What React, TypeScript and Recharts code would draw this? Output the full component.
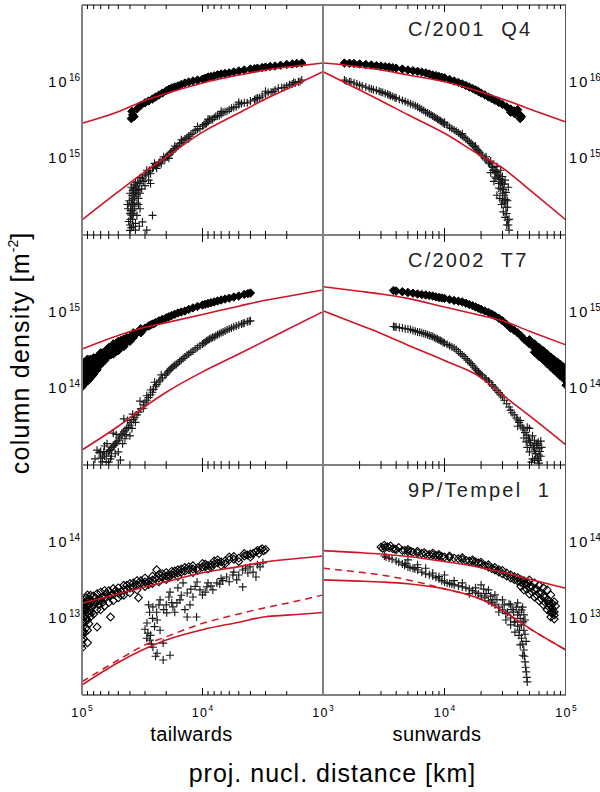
import React from 'react';
import { ScatterChart, Scatter, XAxis, YAxis } from 'recharts';

type P = [number, number];

// ---------- tick values ----------
const X_TICKS = [1000, 2000, 3000, 4000, 5000, 6000, 7000, 8000, 9000, 10000, 20000, 30000, 40000, 50000, 60000, 70000, 80000, 90000, 100000];
const Q4_Y_DOMAIN = [1e14, 1e17];
const Q4_Y_TICKS = [1e15, 1e16];
const T7_Y_DOMAIN = [1e13, 1e16];
const T7_Y_TICKS = [1e14, 1e15];
const TP_Y_DOMAIN = [1e12, 1e15];
const TP_Y_TICKS = [1e13, 1e14];
const TITLES = ['C/2001  Q4', 'C/2002  T7', '9P/Tempel  1'];

// ---------- C/2001 Q4 ----------
const Q4_TAIL_DIA: P[] = [[39000,3.3e15],[38500,4.1e15],[38000,3.7e15],[37000,3.5e15],[35000,4.4e15],[32500,4.9e15],[30000,5.3e15],[28000,5.6e15],[26000,5.95e15],[24500,6.3e15],[23000,6.7e15],[21500,7.1e15],[20000,7.6e15],[19000,7.95e15],[18000,8.3e15],[17000,8.55e15],[16000,8.8e15],[15000,9.2e15],[14000,9.6e15],[13000,9.9e15],[12000,1.02e16],[11000,1.05e16],[10000,1.08e16],[9500,1.11e16],[9000,1.15e16],[8500,1.17e16],[8000,1.19e16],[7500,1.23e16],[7000,1.26e16],[6500,1.28e16],[6000,1.3e16],[5500,1.34e16],[5000,1.38e16],[4500,1.42e16],[4000,1.46e16],[3700,1.48e16],[3500,1.5e16],[3200,1.53e16],[3000,1.55e16],[2750,1.58e16],[2500,1.6e16],[2250,1.64e16],[2000,1.68e16],[1800,1.7e16],[1650,1.73e16],[1500,1.75e16]];
const Q4_TAIL_CROSS: P[] = [[1500,1.05e16],[1600,1.0e16],[1700,9.6e15],[1800,9.3e15],[1900,9.1e15],[2000,8.8e15],[2200,8.3e15],[2500,7.8e15],[2700,7.3e15],[3000,6.9e15],[3200,6.5e15],[3500,6.1e15],[3700,5.8e15],[4000,5.6e15],[4500,5.3e15],[5000,5.0e15],[5500,4.6e15],[6000,4.3e15],[6500,4.05e15],[7000,3.8e15],[7500,3.6e15],[8000,3.4e15],[8500,3.2e15],[9000,3.0e15],[9500,2.8e15],[10000,2.64e15],[11000,2.4e15],[12000,2.14e15],[13000,1.95e15],[14000,1.79e15],[15000,1.6e15],[16000,1.45e15],[17000,1.33e15],[18000,1.21e15],[19000,1.12e15],[20000,1.04e15],[21500,9.5e14],[23000,8.7e14],[24500,8.0e14],[26000,7.5e14],[28000,6.6e14],[30000,5.9e14],[32500,5.1e14],[35000,4.35e14],[37000,3.5e14],[38000,2.86e14],[39000,1.82e14],[40000,1.35e14],
[3000,7.5e15],[5000,5.4e15],[7000,4.1e15],[9000,3.25e15],[11000,2.6e15],[13000,1.8e15],[15000,1.75e15],[17000,1.45e15],[19000,1.0e15],[21000,1.05e15],[22000,8.5e14],[24000,7.4e14],[25000,8.6e14],[27000,6.3e14],[29000,7.0e14],[31000,5.0e14],[33000,5.6e14],[34000,3.9e14],[36000,4.8e14],[36500,3.2e14],[37500,4.0e14],[38500,2.4e14],[39500,2.1e14],[39500,1.6e14],[38000,2.1e14],[31500,1.48e14],[26000,1.8e14],[29000,1.16e14],[36000,1.16e14],[36000,1.42e14],[35000,2.6e14],[34000,3.0e14],[33000,2.2e14],[40000,1.9e14],[37000,2.5e14],
[1550,1.0e16],[1750,9.8e15],[2100,8.4e15],[2350,8.2e15],[2600,7.4e15],[2850,7.2e15],[3350,6.2e15],[3600,6.0e15],[4250,5.3e15],[4750,5.2e15],[5250,4.7e15],[5750,4.5e15],[6250,4.1e15],[6750,4.0e15],[7250,3.6e15],[7750,3.55e15],[8250,3.2e15],[8750,3.2e15],[9250,2.85e15],[9750,2.75e15],[10500,2.45e15],[11500,2.3e15],[12500,2.05e15],[13500,1.85e15],[14500,1.7e15],[15500,1.55e15],[16500,1.4e15],[17500,1.26e15],[18500,1.2e15],[19500,1.05e15],[20500,9.8e14],[22500,9.0e14],[23500,8.2e14],[25500,7.6e14],[27500,7.0e14],[29500,6.2e14],[31500,5.5e14],[33500,4.7e14],[34500,4.9e14],[35500,3.8e14],[36000,4.1e14],[37000,3.0e14],[38500,3.3e14],[39000,2.6e14],[38000,1.6e14],[37500,1.9e14],[39000,1.25e14],[36500,2.2e14],[35000,3.4e14],
[41000,1.5e14],[41500,2.2e14],[40500,2.8e14],[40000,3.5e14],[39000,4.2e14],[38000,3.8e14],[37000,4.5e14],[36000,3.6e14],[34000,2.5e14],[33000,3.5e14],[32000,4.0e14],[30000,4.4e14],[28000,5.2e14],[27000,4.7e14],[35000,1.8e14],[33500,1.3e14],[40000,1.15e14],[37500,1.3e14],[42000,2.5e14]];
const Q4_TAIL_MODEL: P[] = [[1000,1.75e16],[1500,1.63e16],[2000,1.55e16],[3000,1.42e16],[5000,1.22e16],[10000,9.6e15],[20000,7.0e15],[30000,5.7e15],[50000,4.05e15],[100000,2.87e15]];
const Q4_TAIL_MODEL2: P[] = [[1000,1.35e16],[2000,8.0e15],[3000,5.95e15],[5000,3.9e15],[10000,2.2e15],[20000,1.04e15],[30000,6.7e14],[50000,3.67e14],[100000,1.57e14]];
const Q4_SUN_DIA: P[] = [[1500,1.75e16],[1650,1.74e16],[1800,1.73e16],[2000,1.7e16],[2250,1.68e16],[2500,1.65e16],[2750,1.62e16],[3000,1.6e16],[3250,1.57e16],[3500,1.55e16],[3750,1.52e16],[4000,1.5e16],[4500,1.46e16],[5000,1.42e16],[5500,1.39e16],[6000,1.36e16],[6500,1.33e16],[7000,1.3e16],[7500,1.26e16],[8000,1.22e16],[8500,1.2e16],[9000,1.17e16],[9500,1.14e16],[10000,1.12e16],[11000,1.07e16],[12000,1.02e16],[13000,9.8e15],[14000,9.35e15],[15000,8.9e15],[16000,8.5e15],[17000,8.15e15],[18000,7.8e15],[19000,7.45e15],[20000,7.1e15],[21500,6.7e15],[23000,6.3e15],[24500,6.0e15],[26000,5.7e15],[28000,5.35e15],[30000,5.05e15],[32500,4.7e15],[35000,4.4e15],[37500,4.15e15],[40000,3.9e15],[42000,3.65e15],[43000,3.5e15],[40000,4.3e15],[42000,3.3e15],[38000,3.8e15],[35000,4.0e15]];
const Q4_SUN_CROSS: P[] = [[1500,1.05e16],[1650,1.0e16],[1800,9.6e15],[2000,9.0e15],[2250,8.5e15],[2500,8.0e15],[2750,7.7e15],[3000,7.35e15],[3250,7.0e15],[3500,6.7e15],[3750,6.4e15],[4000,6.1e15],[4500,5.7e15],[5000,5.3e15],[5500,5.0e15],[6000,4.68e15],[6500,4.35e15],[7000,4.0e15],[7500,3.8e15],[8000,3.57e15],[8500,3.35e15],[9000,3.17e15],[9500,3.0e15],[10000,2.8e15],[11000,2.55e15],[12000,2.35e15],[13000,2.15e15],[14000,1.96e15],[15000,1.8e15],[16000,1.64e15],[17000,1.5e15],[18000,1.37e15],[19000,1.25e15],[20000,1.14e15],[21500,1.0e15],[23000,8.9e14],[24500,7.9e14],[26000,7.05e14],[27000,6.5e14],[28000,5.9e14],[29000,5.3e14],[30000,4.6e14],[31000,3.3e14],[32000,2.3e14],[33000,1.57e14],[34000,1.16e14],
[22000,1.05e15],[24000,9.2e14],[25000,7.0e14],[26000,5.7e14],[27000,7.8e14],[27000,3.3e14],[28000,4.1e14],[29000,7.0e14],[29000,4.0e14],[30000,2.86e14],[30000,5.8e14],[30500,2.0e14],[31000,4.6e14],[31500,5.2e14],[32000,3.6e14],[32500,1.35e14],[31000,2.6e14],[33000,2.8e14],[33500,4.2e14],[29500,2.5e14],[31500,1.7e14],[28500,3.0e14],[25500,5.0e14],[18000,1.45e15],[14000,2.1e15],[10000,2.95e15],
[1550,1.02e16],[1700,9.9e15],[1900,9.3e15],[2100,8.8e15],[2400,8.2e15],[2600,7.85e15],[2900,7.5e15],[3100,7.2e15],[3400,6.85e15],[3600,6.55e15],[3900,6.2e15],[4250,5.9e15],[4750,5.5e15],[5250,5.15e15],[5750,4.85e15],[6250,4.5e15],[6750,4.2e15],[7250,3.9e15],[7750,3.7e15],[8250,3.45e15],[8750,3.25e15],[9250,3.1e15],[9750,2.9e15],[10500,2.7e15],[11500,2.45e15],[12500,2.25e15],[13500,2.05e15],[14500,1.88e15],[15500,1.72e15],[16500,1.57e15],[17500,1.43e15],[18500,1.3e15],[19500,1.2e15],[20500,1.08e15],[22000,9.5e14],[23500,8.5e14],[25000,7.6e14],[26500,6.7e14],[27500,6.1e14],[28500,5.5e14],[29500,4.9e14],[30500,3.9e14],[31500,2.8e14],[32500,1.9e14],[33500,1.35e14],[28000,4.7e14],[30000,3.5e14],[32000,2.9e14],[33000,2.3e14],[34000,1.6e14],[26500,5.5e14],[24000,6.5e14]];
const Q4_SUN_MODEL: P[] = [[1000,1.75e16],[1500,1.65e16],[2000,1.55e16],[3000,1.42e16],[5000,1.22e16],[10000,1.0e16],[20000,7.35e15],[30000,5.95e15],[50000,4.4e15],[100000,2.98e15]];
const Q4_SUN_MODEL2: P[] = [[1000,1.35e16],[2000,7.8e15],[3000,5.65e15],[5000,3.7e15],[10000,2.12e15],[20000,1.08e15],[30000,7.5e14],[50000,3.9e14],[100000,1.57e14]];

// ---------- C/2002 T7 ----------
const T7_TAIL_DIA: P[] = [[100000,1.5e14],[100000,2.14e14],[100000,1.04e14],[100000,1.25e14],[100000,1.8e14],[97500,1.4e14],[97500,1.95e14],[95000,1.62e14],[95000,1.15e14],[95000,2.2e14],[92500,1.55e14],[92500,2.1e14],[92500,1.3e14],[90000,1.74e14],[90000,2.4e14],[90000,1.25e14],[87500,1.65e14],[87500,2.25e14],[87500,1.3e14],[85000,1.88e14],[85000,1.4e14],[85000,2.4e14],[82500,1.75e14],[82500,2.2e14],[82500,1.45e14],[80000,2.02e14],[80000,2.5e14],[80000,1.54e14],[77500,2.1e14],[77500,2.45e14],[77500,1.65e14],[75000,2.25e14],[75000,1.75e14],[72500,2.35e14],[72500,2.7e14],[72500,1.95e14],[70000,2.49e14],[70000,2.9e14],[70000,2.05e14],[67500,2.55e14],[67500,2.9e14],[67500,2.2e14],[65000,2.7e14],[65000,2.3e14],[62500,2.8e14],[62500,3.2e14],[62500,2.5e14],[60000,2.98e14],[60000,3.4e14],[57500,3.1e14],[57500,3.5e14],[57500,2.75e14],[55000,3.25e14],[55000,3.8e14],[55000,2.8e14],[52500,3.4e14],[52500,3.85e14],[52500,3.0e14],[50000,3.57e14],[50000,3.1e14],[50000,4.1e14],[47500,3.7e14],[47500,4.2e14],[47000,3.8e14],[45000,4.0e14],[45000,3.5e14],[45000,4.4e14],[42500,4.3e14],[42500,4.6e14],[42500,4.0e14],[40000,4.68e14],[40000,4.1e14],[37500,4.95e14],[37500,4.6e14],[37500,5.3e14],[35000,5.3e14],[32500,5.7e14],[32500,5.3e14],[32500,6.0e14],[30000,6.1e14],[28000,6.5e14],[27000,6.7e14],[26000,6.9e14],[25000,7.05e14],[24500,7.2e14],[23000,7.6e14],[21500,7.95e14],[20000,8.3e14],[19000,8.6e14],[18000,8.9e14],[17000,9.25e14],[16000,9.6e14],[15000,9.9e14],[14000,1.02e15],[13000,1.07e15],[12000,1.12e15],[11000,1.17e15],[10000,1.22e15],[9500,1.25e15],[9000,1.28e15],[8500,1.31e15],[8000,1.34e15],[7500,1.38e15],[7000,1.42e15],[6500,1.46e15],[6000,1.5e15],[5500,1.55e15],[5000,1.6e15],[4500,1.68e15],[4200,1.72e15],[4000,1.75e15]];
const T7_TAIL_CROSS: P[] = [[4000,7.6e14],[4250,7.4e14],[4500,7.1e14],[4750,6.9e14],[5000,6.7e14],[5500,6.3e14],[6000,5.95e14],[6500,5.6e14],[7000,5.3e14],[7500,5.0e14],[8000,4.68e14],[8500,4.5e14],[9000,4.27e14],[9500,4.0e14],[10000,3.8e14],[11000,3.4e14],[12000,3.07e14],[13000,2.8e14],[14000,2.57e14],[15000,2.35e14],[16000,2.14e14],[17000,2.0e14],[18000,1.85e14],[19000,1.7e14],[20000,1.54e14],[21500,1.37e14],[23000,1.21e14],[24500,1.05e14],[26000,8.9e13],[28000,7.6e13],[30000,6.6e13],[32500,5.4e13],[35000,4.5e13],[37500,3.9e13],[40000,3.3e13],[42500,3.0e13],[45000,2.7e13],[47500,2.4e13],[50000,2.1e13],[52500,1.9e13],[55000,1.77e13],[57500,1.6e13],[60000,1.48e13],[65000,1.31e13],[70000,1.23e13],
[22000,1.5e14],[25000,1.2e14],[27000,9.5e13],[29000,8.0e13],[31000,5.5e13],[33000,6.8e13],[36000,3.6e13],[38000,4.6e13],[40000,2.4e13],[42000,3.8e13],[44000,2.2e13],[45000,4.0e13],[48000,1.16e13],[50000,1.48e13],[52000,2.5e13],[55000,2.6e13],[58000,1.2e13],[60000,1.09e13],[62000,1.9e13],[65000,1.77e13],[68000,1.1e13],[72000,1.45e13],[75000,1.56e13],[78000,1.2e13],[66000,1.5e13],
[4100,7.5e14],[4600,7.0e14],[5250,6.5e14],[5750,6.1e14],[6250,5.8e14],[6750,5.45e14],[7250,5.15e14],[7750,4.85e14],[8250,4.6e14],[8750,4.4e14],[9250,4.15e14],[9750,3.9e14],[10500,3.6e14],[11500,3.25e14],[12500,2.95e14],[13500,2.7e14],[14500,2.45e14],[15500,2.25e14],[16500,2.05e14],[17500,1.92e14],[18500,1.78e14],[19500,1.62e14],[20500,1.48e14],[22500,1.28e14],[24000,1.12e14],[25500,9.7e13],[27000,8.2e13],[29000,7.0e13],[31000,6.1e13],[34000,4.9e13],[36500,4.2e13],[39000,3.6e13],[41000,3.1e13],[44000,2.85e13],[46500,2.55e13],[49000,2.25e13],[51500,2.0e13],[54000,1.82e13],[56500,1.7e13],[59000,1.55e13],[62500,1.4e13],[67500,1.27e13],[53000,1.4e13],[57000,1.3e13],[63000,1.1e13],[70000,1.5e13],[46000,1.9e13],[43000,2.5e13],[38500,3.0e13]];
const T7_TAIL_MODEL: P[] = [[1000,1.92e15],[2000,1.58e15],[3000,1.41e15],[5000,1.18e15],[10000,9.2e14],[20000,7.2e14],[30000,6.25e14],[50000,4.9e14],[100000,3.26e14]];
const T7_TAIL_MODEL2: P[] = [[1000,1.0e15],[2000,5.8e14],[3000,4.2e14],[5000,2.8e14],[10000,1.64e14],[20000,8.9e13],[30000,5.8e13],[50000,3.2e13],[100000,1.57e13]];
const T7_SUN_DIA: P[] = [[3800,1.89e15],[4000,1.86e15],[4500,1.82e15],[5000,1.78e15],[5500,1.74e15],[6000,1.7e15],[6500,1.67e15],[7000,1.65e15],[7500,1.62e15],[8000,1.6e15],[8500,1.56e15],[9000,1.53e15],[9500,1.51e15],[10000,1.49e15],[11000,1.44e15],[12000,1.4e15],[13000,1.37e15],[14000,1.34e15],[15000,1.29e15],[16000,1.24e15],[17000,1.2e15],[18000,1.15e15],[19000,1.11e15],[20000,1.07e15],[21500,1.02e15],[23000,9.8e14],[24500,9.3e14],[26000,8.8e14],[28000,8.2e14],[30000,7.6e14],[32500,6.8e14],[35000,6.1e14],[37500,5.7e14],[40000,5.3e14],[42500,4.85e14],[45000,4.4e14],[47500,4.1e14],[50000,3.8e14],[55000,3.35e14],[60000,2.98e14],[65000,2.7e14],[70000,2.42e14],[75000,2.2e14],[80000,2.02e14],[85000,1.88e14],[90000,1.74e14],[95000,1.62e14],[100000,1.54e14],
[50000,4.3e14],[55000,3.8e14],[60000,3.4e14],[65000,3.1e14],[70000,2.8e14],[75000,2.55e14],[80000,2.35e14],[85000,2.2e14],[90000,2.05e14],[95000,1.9e14],[100000,1.85e14],[55000,2.95e14],[60000,2.6e14],[65000,2.35e14],[70000,2.1e14],[75000,1.9e14],[80000,1.72e14],[85000,1.58e14],[90000,1.45e14],[95000,1.35e14],[100000,1.25e14],[100000,1.1e14]];
const T7_SUN_CROSS: P[] = [[3800,6.4e14],[4000,6.3e14],[4500,6.1e14],[5000,5.95e14],[5500,5.7e14],[6000,5.45e14],[6500,5.3e14],[7000,5.1e14],[7500,4.9e14],[8000,4.75e14],[8500,4.5e14],[9000,4.27e14],[9500,4.1e14],[10000,3.9e14],[11000,3.6e14],[12000,3.36e14],[13000,3.0e14],[14000,2.73e14],[15000,2.45e14],[16000,2.2e14],[17000,2.0e14],[18000,1.79e14],[19000,1.63e14],[20000,1.5e14],[21500,1.37e14],[23000,1.25e14],[24500,1.12e14],[26000,1.01e14],[28000,8.8e13],[30000,7.7e13],[32500,6.3e13],[35000,5.2e13],[37500,4.5e13],[40000,3.86e13],[42500,3.3e13],[45000,2.86e13],[47500,2.45e13],[50000,2.1e13],[52500,1.8e13],[55000,1.57e13],[58000,1.23e13],[60000,1.06e13],
[45000,2.25e13],[48000,3.1e13],[50000,1.48e13],[50000,3.0e13],[52000,1.09e13],[53000,2.4e13],[55000,2.1e13],[55000,1.16e13],[57000,1.9e13],[58000,1.8e13],[60000,1.66e13],[60000,1.35e13],[62000,2.05e13],[62000,1.3e13],[56000,1.4e13],[42000,3.8e13],[40000,3.2e13],[47000,2.0e13],
[3900,6.35e14],[4250,6.2e14],[4750,6.0e14],[5250,5.85e14],[5750,5.55e14],[6250,5.4e14],[6750,5.2e14],[7250,5.0e14],[7750,4.8e14],[8250,4.6e14],[8750,4.4e14],[9250,4.2e14],[9750,4.0e14],[10500,3.75e14],[11500,3.45e14],[12500,3.2e14],[13500,2.85e14],[14500,2.6e14],[15500,2.33e14],[16500,2.1e14],[17500,1.9e14],[18500,1.7e14],[19500,1.56e14],[20500,1.45e14],[22000,1.32e14],[23500,1.2e14],[25000,1.07e14],[27000,9.4e13],[29000,8.2e13],[31000,7.0e13],[34000,5.7e13],[36000,4.8e13],[39000,4.1e13],[41000,3.6e13],[44000,3.05e13],[46000,2.65e13],[49000,2.25e13],[51000,1.95e13],[54000,1.68e13],[56500,1.4e13],[59000,1.15e13],[61000,1.5e13],[63000,1.7e13],[59000,2.0e13],[53000,1.2e13],[48000,1.7e13]];
const T7_SUN_MODEL: P[] = [[1000,2.12e15],[2000,1.85e15],[3000,1.7e15],[5000,1.49e15],[10000,1.15e15],[20000,8.9e14],[30000,7.6e14],[50000,5.55e14],[100000,3.68e14]];
const T7_SUN_MODEL2: P[] = [[1000,1.03e15],[2000,6.7e14],[3000,5.2e14],[5000,3.65e14],[10000,2.3e14],[20000,1.38e14],[30000,8.2e13],[50000,4.4e13],[100000,1.82e13]];

// ---------- 9P/Tempel 1 ----------
const TP_TAIL_DIA: P[] = [[100000,9.5e12],[100000,1.74e13],[100000,1.29e13],[100000,7.0e12],[100000,5.2e12],[100000,4.1e12],[100000,1.5e13],[100000,1.1e13],[100000,8.2e12],[100000,6.0e12],[100000,1.6e13],[100000,1.2e13],[100000,8.8e12],[100000,6.5e12],[100000,4.6e12],[97500,1.55e13],[97500,1.15e13],[97500,8.5e12],[97500,1.35e13],[97500,5.5e12],[95000,1.21e13],[95000,1.6e13],[95000,9.0e12],[95000,6.5e12],[95000,1.42e13],[95000,1.05e13],[92500,1.3e13],[92500,1.85e13],[92500,1.0e13],[92500,7.5e12],[92500,1.6e13],[90000,1.45e13],[90000,2.02e13],[90000,9.5e12],[90000,7.0e12],[90000,1.2e13],[90000,1.7e13],[90000,4.8e12],[87500,1.5e13],[87500,1.8e13],[87500,1.15e13],[87500,8.5e12],[85000,1.59e13],[85000,2.0e13],[85000,1.25e13],[85000,1.05e13],[82500,1.7e13],[82500,1.4e13],[82500,1.2e13],[80000,1.55e13],[80000,1.96e13],[80000,1.14e13],[77500,1.6e13],[77500,1.85e13],[75000,1.65e13],[75000,2.1e13],[75000,1.3e13],[75000,7.7e12],[72500,1.7e13],[72500,1.5e13],[70000,1.74e13],[70000,2.2e13],[70000,1.29e13],[67500,1.9e13],[67500,1.6e13],[65000,1.85e13],[65000,2.3e13],[65000,1.45e13],[62500,2.1e13],[60000,1.96e13],[60000,2.3e13],[60000,1.6e13],[58000,1.04e13],[57500,2.0e13],[55000,2.05e13],[55000,2.45e13],[55000,1.7e13],[52500,2.3e13],[50000,2.14e13],[50000,2.5e13],[50000,1.85e13],[47500,2.25e13],[47500,2.0e13],[45000,2.35e13],[45000,2.7e13],[45000,2.0e13],[42500,2.4e13],[42500,2.7e13],[40000,2.49e13],[40000,2.85e13],[40000,2.15e13],[37500,2.6e13],[37500,2.9e13],[35000,2.73e13],[35000,3.1e13],[35000,2.35e13],[34000,1.85e13],[32500,2.85e13],[32500,3.1e13],[30000,2.98e13],[30000,3.35e13],[30000,2.6e13],[28000,3.05e13],[28000,2.75e13],[26000,3.17e13],[26000,3.55e13],[26000,2.85e13],[24500,3.3e13],[24000,4.3e13],[23000,3.36e13],[23000,3.75e13],[23000,3.0e13],[21500,3.45e13],[21500,3.8e13],[20000,3.57e13],[20000,3.95e13],[20000,3.2e13],[19000,3.65e13],[19000,3.4e13],[18000,3.73e13],[18000,4.1e13],[17000,3.8e13],[17000,4.15e13],[16000,3.9e13],[16000,4.3e13],[16000,3.5e13],[15000,4.0e13],[15000,4.4e13],[14000,4.15e13],[14000,4.6e13],[13000,4.3e13],[13000,4.7e13],[12000,4.4e13],[12000,4.85e13],[12000,3.95e13],[11000,4.55e13],[11000,4.2e13],[10000,4.68e13],[10000,5.2e13],[9500,4.75e13],[9500,5.1e13],[9000,4.9e13],[9000,4.4e13],[8500,5.0e13],[8500,4.6e13],[8000,5.1e13],[8000,5.6e13],[7500,5.3e13],[7500,5.8e13],[7000,5.45e13],[7000,4.9e13],[6500,5.6e13],[6500,5.1e13],[6000,5.8e13],[6000,6.3e13],[5500,5.9e13],[5500,6.4e13],[5000,6.1e13],[5000,5.5e13],[4500,6.5e13],[4500,7.0e13],[4250,6.7e13],[4000,6.9e13],[4000,6.3e13],[3800,7.0e13],[3600,7.35e13],[3500,7.7e13],[3400,7.0e13],[3300,7.8e13],[3200,8.1e13],[3100,7.6e13],[3000,7.9e13]];
const TP_TAIL_CROSS: P[] = [[28900,8.7e12],[28400,6.4e12],[27300,5.2e12],[25800,4.2e12],[23800,3.5e12],[21200,2.86e12],[18600,3.3e12],[21200,4.76e12],[25800,1.41e13],[22500,1.74e13],[19800,1.18e13],[17600,1.41e13],[15400,1.74e13],[13400,2.14e13],[13400,1.04e13],[12000,1.9e13],[11200,1.04e13],[10500,2.35e13],[9200,2.57e13],[7600,2.9e13],[6300,3.46e13],[5600,3.68e13],[4640,4.27e13],[4030,4.68e13],[3330,4.68e13],[3150,5.3e13],[4640,2.57e13],[14500,2.9e13],[18600,2.2e13],[16300,1.59e13],[12700,1.5e13],[23800,9.5e12],[22500,7.0e12],[10000,2.02e13],[8200,2.35e13],[7200,2.8e13],[5200,3.17e13],[3800,4.0e13],[3600,3.46e13],[5000,3.68e13],[11100,2.98e13],[20000,1.5e13],[24000,1.2e13],[26000,1.0e13],[17000,1.2e13],[14000,1.3e13],[9500,2.2e13],[8500,2.65e13],[6800,3.1e13],[6000,3.0e13],[4200,3.9e13],[3500,5.0e13],[12500,2.4e13],[16000,2.5e13],[19000,1.9e13],[27000,6.0e12],[25000,7.8e12],[30000,7.2e12],[26500,4.6e12],[29000,5.5e12],[24500,3.2e12],[21000,1.3e13],[18000,1.6e13],[15000,2.0e13],[11500,2.6e13],[9000,2.9e13],[7000,3.3e13],[5500,4.0e13],[4400,4.5e13],[23000,1.5e13],[27500,1.2e13],[28000,1.5e13]];
const TP_TAIL_MODEL: P[] = [[1000,6.5e13],[2000,5.85e13],[3000,5.45e13],[5000,4.73e13],[10000,3.93e13],[20000,3.0e13],[30000,2.57e13],[50000,2.09e13],[100000,1.57e13]];
const TP_TAIL_MODEL2: P[] = [[1000,1.19e13],[2000,1.1e13],[3000,1.05e13],[5000,8.9e12],[10000,7.1e12],[20000,5.2e12],[30000,4.0e12],[50000,2.65e12],[100000,1.35e12]];
const TP_TAIL_DASH: P[] = [[1000,2.02e13],[2000,1.57e13],[3000,1.38e13],[5000,1.14e13],[10000,8.6e12],[20000,5.75e12],[30000,4.5e12],[50000,2.86e12],[100000,1.49e12]];
const TP_SUN_DIA: P[] = [[3000,8.5e13],[3250,8.4e13],[3500,8.3e13],[3750,8.1e13],[4000,7.9e13],[4500,7.65e13],[5000,7.45e13],[5500,7.25e13],[6000,7.1e13],[6500,7.0e13],[7000,6.9e13],[7500,6.8e13],[8000,6.7e13],[8500,6.6e13],[9000,6.5e13],[9500,6.4e13],[10000,6.3e13],[11000,6.2e13],[12000,6.1e13],[13000,6.0e13],[14000,5.85e13],[15000,5.7e13],[16000,5.6e13],[17000,5.5e13],[18000,5.45e13],[19000,5.3e13],[20000,5.1e13],[21500,4.9e13],[23000,4.68e13],[24500,4.45e13],[26000,4.27e13],[28000,4.0e13],[30000,3.8e13],[32500,3.55e13],[35000,3.36e13],[37500,3.2e13],[40000,3.07e13],[42500,2.95e13],[45000,2.8e13],[47500,2.7e13],[50000,2.57e13],[55000,2.35e13],[60000,2.14e13],[65000,1.95e13],[70000,1.74e13],[75000,1.5e13],[80000,1.21e13],
[3200,9.0e13],[3600,8.8e13],[4200,8.4e13],[5000,7.9e13],[6000,7.5e13],[8000,7.1e13],[30000,4.2e13],[35000,3.7e13],[40000,3.4e13],[45000,3.1e13],[50000,3.17e13],[55000,2.9e13],[60000,2.7e13],[65000,2.5e13],[70000,2.35e13],[75000,2.02e13],[80000,1.64e13],[45000,2.35e13],[50000,2.08e13],[55000,1.9e13],[60000,1.69e13],[65000,1.5e13],[70000,1.29e13],[75000,1.04e13],[80000,9.8e12],[77000,1.35e13],[82000,1.45e13],[72000,1.55e13],[75000,1.2e13],
[3100,8.2e13],[3400,8.6e13],[3900,8.0e13],[4700,7.7e13],[5300,7.5e13],[6800,7.2e13],[9000,6.8e13],[11000,6.5e13],[14000,6.2e13],[17000,5.8e13],[20000,5.4e13],[23000,5.0e13],[26000,4.6e13],[28000,4.3e13],[32500,3.9e13],[37500,3.5e13],[42500,3.2e13],[47500,2.95e13],[52500,2.6e13],[57500,2.4e13],[62500,2.15e13],[67500,1.9e13],[72500,1.7e13],[77500,1.55e13],[42500,2.6e13],[47500,2.4e13],[52500,2.2e13],[57500,2.0e13],[62500,1.8e13],[67500,1.6e13],[72500,1.4e13],[77500,1.2e13],[80000,1.1e13]];
const TP_SUN_CROSS: P[] = [[3200,6.5e13],[3500,6.1e13],[4000,5.6e13],[4500,5.1e13],[5000,4.68e13],[5500,4.5e13],[6000,4.27e13],[7000,3.8e13],[8000,3.57e13],[9000,3.26e13],[10000,2.98e13],[11000,2.85e13],[12000,2.73e13],[14000,2.57e13],[16000,2.42e13],[18000,2.2e13],[20000,1.96e13],[23000,1.69e13],[26000,1.5e13],[30000,1.29e13],[35000,1.01e13],[40000,7.9e12],[43000,5.5e12],[45000,3.86e12],[46000,2.7e12],[47000,2.0e12],[48000,1.48e12],
[20000,2.73e13],[23000,2.35e13],[26000,2.02e13],[30000,1.74e13],[35000,1.5e13],[35000,8.2e12],[40000,1.59e13],[40000,1.11e13],[43000,1.29e13],[43000,8.2e12],[45000,7.0e12],[45000,1.11e13],[38000,6.6e12],[32000,9.5e12],[42000,4.5e12],[37000,1.21e13],[28000,1.21e13],[10000,3.68e13],[7000,4.5e13],[5000,5.8e13],[6000,5.0e13],[8000,3.9e13],[12000,3.1e13],[14000,2.9e13],[16000,2.1e13],[18000,2.5e13],[22000,2.1e13],[25000,1.75e13],[33000,1.2e13],[38000,9.0e12],[41000,6.0e12],[44000,1.4e13],[46000,9.5e12],[47000,5.0e12],[44000,3.3e12],
[3300,6.3e13],[3700,5.9e13],[4200,5.4e13],[4700,4.9e13],[5200,4.6e13],[5700,4.4e13],[6500,4.0e13],[7500,3.7e13],[8500,3.4e13],[9500,3.1e13],[10500,2.9e13],[11500,2.8e13],[13000,2.65e13],[15000,2.5e13],[17000,2.3e13],[19000,2.1e13],[21500,1.85e13],[24500,1.6e13],[28000,1.4e13],[32000,1.15e13],[37500,9.0e12],[41500,7.0e12],[44000,4.6e12],[45500,3.2e12],[46500,2.3e12],[47500,1.7e12],[36000,1.3e13],[39000,1.4e13],[42000,1.0e13],[44500,9.0e12],[46000,6.2e12],[41000,1.2e13],[34000,1.55e13],[31000,1.5e13],[27000,1.75e13],[24000,1.95e13],[21000,2.4e13],[4800,5.2e13],[6000,4.6e13],[9000,3.5e13]];
const TP_SUN_MODEL: P[] = [[1000,7.63e13],[2000,7.2e13],[3000,6.9e13],[5000,6.4e13],[10000,5.5e13],[20000,4.58e13],[30000,4.0e13],[50000,3.24e13],[100000,2.47e13]];
const TP_SUN_MODEL2: P[] = [[1000,3.17e13],[2000,3.06e13],[3000,2.98e13],[5000,2.83e13],[10000,2.42e13],[20000,1.77e13],[30000,1.26e13],[50000,7.4e12],[100000,3.86e12]];
const TP_SUN_DASH: P[] = [[1000,4.5e13],[2000,4.0e13],[3000,3.68e13],[5000,3.17e13],[10000,2.42e13],[20000,1.77e13],[30000,1.26e13],[50000,7.4e12],[100000,3.86e12]];

// ---------- layout / style ----------
const FONT = '"Liberation Sans", Arial, Helvetica, sans-serif';
const RED = '#cf1424';
const ROW_TOP = [5, 235, 465];
const ROW_BOTTOM = [235, 465, 695];
const COL_LEFT = { tail: 82, sun: 323 };
const COL_RIGHT = { tail: 323, sun: 566 };
const AX_W = 30;
const AX_H = 20;

const toPts = (a: P[]) => a.map(([x, y]) => ({ x, y }));
const isPow10 = (v: number) => Math.abs(Math.log10(v) - Math.round(Math.log10(v))) < 1e-9;

const makeDiamond = (filled: boolean) => (props: any) => {
  const { cx, cy } = props;
  if (cx == null || cy == null) return <g />;
  const r = filled ? 4.2 : 3.9;
  return (
    <polygon
      points={`${cx},${cy - r} ${cx + r},${cy} ${cx},${cy + r} ${cx - r},${cy}`}
      fill={filled ? '#000' : 'none'}
      stroke="#000"
      strokeWidth={filled ? 1 : 1.1}
    />
  );
};

const Cross = (props: any) => {
  const { cx, cy } = props;
  if (cx == null || cy == null) return <g />;
  const r = 4;
  return <path d={`M${cx - r},${cy}H${cx + r}M${cx},${cy - r}V${cy + r}`} stroke="#1a1a1a" strokeWidth={1.15} fill="none" />;
};

const Nothing = () => <g />;

type PanelProps = {
  row: number;
  side: 'tail' | 'sun';
  dia: P[];
  cross: P[];
  models: P[][];
  dashed?: P[];
  yDomain: number[];
  yTicks: number[];
  filled: boolean;
};

function Panel({ row, side, dia, cross, models, dashed, yDomain, yTicks, filled }: PanelProps) {
  const T = ROW_TOP[row];
  const B = ROW_BOTTOM[row];
  const L = COL_LEFT[side];
  const R = COL_RIGHT[side];
  const tail = side === 'tail';
  // order points so that screen x increases (for the smooth curve)
  const ordered = (m: P[]) => toPts(tail ? [...m].reverse() : m);

  const xTick = (p: any) => {
    const v = p.payload?.value;
    const x = p.x;
    if (v == null || x == null) return <g />;
    const major = isPow10(v);
    const len = major ? 7 : 4;
    const edge = v === 1000 || v === 100000;
    const showLabel = row === 2 && major && !(side === 'sun' && v === 1000);
    const e = Math.round(Math.log10(v));
    return (
      <g>
        {!edge && <line x1={x} x2={x} y1={B} y2={B - len} stroke="#000" strokeWidth={1} />}
        {!edge && <line x1={x} x2={x} y1={T} y2={T + len} stroke="#000" strokeWidth={1} />}
        {showLabel && (
          <text x={x} y={716.5} textAnchor="middle" fontFamily={FONT} fill="#000">
            <tspan fontSize={12.5} letterSpacing={1.4}>10</tspan>
            <tspan fontSize={8.5} dy={-5.5}>{e}</tspan>
          </text>
        )}
      </g>
    );
  };

  const yTick = (p: any) => {
    const v = p.payload?.value;
    const y = p.y;
    if (v == null || y == null) return <g />;
    const e = Math.round(Math.log10(v));
    return (
      <text x={tail ? 80 : 569} y={y + 5} textAnchor={tail ? 'end' : 'start'} fontFamily={FONT} fill="#000">
        <tspan fontSize={14.5} letterSpacing={2.3}>10</tspan>
        <tspan fontSize={10} dy={-6}>{e}</tspan>
      </text>
    );
  };

  const margin = {
    top: T,
    bottom: 792 - B - AX_H,
    left: tail ? L - AX_W : L,
    right: tail ? 600 - R : 600 - R - AX_W,
  };

  return (
    <div style={{ position: 'absolute', left: 0, top: 0 }}>
      <ScatterChart width={600} height={792} margin={margin}>
        <XAxis
          type="number"
          dataKey="x"
          scale="log"
          domain={[1000, 100000]}
          reversed={tail}
          ticks={X_TICKS}
          interval={0}
          allowDataOverflow
          axisLine={false}
          tickLine={false}
          tickSize={0}
          tickMargin={0}
          height={AX_H}
          tick={xTick}
        />
        <YAxis
          type="number"
          dataKey="y"
          scale="log"
          domain={yDomain}
          ticks={yTicks}
          interval={0}
          allowDataOverflow
          orientation={tail ? 'left' : 'right'}
          axisLine={false}
          tickLine={false}
          tickSize={0}
          tickMargin={0}
          width={AX_W}
          tick={yTick}
        />
        <Scatter data={toPts(dia)} shape={makeDiamond(filled)} isAnimationActive={false} />
        <Scatter data={toPts(cross)} shape={Cross} isAnimationActive={false} />
        {models.map((m, i) => (
          <Scatter
            key={`m${i}`}
            data={ordered(m)}
            shape={Nothing}
            line={{ stroke: RED, strokeWidth: 1.6 }}
            lineType="joint"
            lineJointType="monotoneX"
            isAnimationActive={false}
          />
        ))}
        {dashed && (
          <Scatter
            data={ordered(dashed)}
            shape={Nothing}
            line={{ stroke: RED, strokeWidth: 1.5, strokeDasharray: '7 5' }}
            lineType="joint"
            lineJointType="monotoneX"
            isAnimationActive={false}
          />
        )}
      </ScatterChart>
    </div>
  );
}

export default function App() {
  return (
    <div style={{ position: 'absolute', left: 0, top: 0, width: 600, height: 792, background: '#fff', overflow: 'hidden' }}>
      <Panel row={0} side="tail" dia={Q4_TAIL_DIA} cross={Q4_TAIL_CROSS} models={[Q4_TAIL_MODEL, Q4_TAIL_MODEL2]} yDomain={Q4_Y_DOMAIN} yTicks={Q4_Y_TICKS} filled />
      <Panel row={0} side="sun" dia={Q4_SUN_DIA} cross={Q4_SUN_CROSS} models={[Q4_SUN_MODEL, Q4_SUN_MODEL2]} yDomain={Q4_Y_DOMAIN} yTicks={Q4_Y_TICKS} filled />
      <Panel row={1} side="tail" dia={T7_TAIL_DIA} cross={T7_TAIL_CROSS} models={[T7_TAIL_MODEL, T7_TAIL_MODEL2]} yDomain={T7_Y_DOMAIN} yTicks={T7_Y_TICKS} filled />
      <Panel row={1} side="sun" dia={T7_SUN_DIA} cross={T7_SUN_CROSS} models={[T7_SUN_MODEL, T7_SUN_MODEL2]} yDomain={T7_Y_DOMAIN} yTicks={T7_Y_TICKS} filled />
      <Panel row={2} side="tail" dia={TP_TAIL_DIA} cross={TP_TAIL_CROSS} models={[TP_TAIL_MODEL, TP_TAIL_MODEL2]} dashed={TP_TAIL_DASH} yDomain={TP_Y_DOMAIN} yTicks={TP_Y_TICKS} filled={false} />
      <Panel row={2} side="sun" dia={TP_SUN_DIA} cross={TP_SUN_CROSS} models={[TP_SUN_MODEL, TP_SUN_MODEL2]} dashed={TP_SUN_DASH} yDomain={TP_Y_DOMAIN} yTicks={TP_Y_TICKS} filled={false} />

      <svg width={600} height={792} style={{ position: 'absolute', left: 0, top: 0, pointerEvents: 'none' }}>
        {ROW_TOP.map((t, i) => (
          <line key={`h${i}`} x1={82} x2={566} y1={t} y2={t} stroke="#000" strokeWidth={1} />
        ))}
        <line x1={82} x2={566} y1={695} y2={695} stroke="#000" strokeWidth={1} />
        <line x1={82} x2={82} y1={5} y2={695} stroke="#7f7f7f" strokeWidth={2} />
        <line x1={323} x2={323} y1={5} y2={695} stroke="#7f7f7f" strokeWidth={2} />
        <line x1={565.5} x2={565.5} y1={5} y2={695} stroke="#555" strokeWidth={1} />
        {TITLES.map((t, i) => (
          <text key={t} x={408} y={[36, 266.5, 497][i]} fontFamily={FONT} fontSize={20} letterSpacing={2.2} fill="#222" style={{ whiteSpace: 'pre' }}>
            {t}
          </text>
        ))}
        <text x={191.5} y={741} textAnchor="middle" fontFamily={FONT} fontSize={20} letterSpacing={0.4} fill="#000">tailwards</text>
        <text x={437} y={741} textAnchor="middle" fontFamily={FONT} fontSize={20} letterSpacing={0.4} fill="#000">sunwards</text>
        <text x={332.5} y={782} textAnchor="middle" fontFamily={FONT} fontSize={25} letterSpacing={1} fill="#000">proj. nucl. distance [km]</text>
        <text transform="translate(29,353.5) rotate(-90)" textAnchor="middle" fontFamily={FONT} fill="#000">
          <tspan fontSize={25} letterSpacing={1.2}>column density [m</tspan>
          <tspan fontSize={14} dy={-11}>-2</tspan>
          <tspan fontSize={25} dy={11}>]</tspan>
        </text>
      </svg>
    </div>
  );
}
